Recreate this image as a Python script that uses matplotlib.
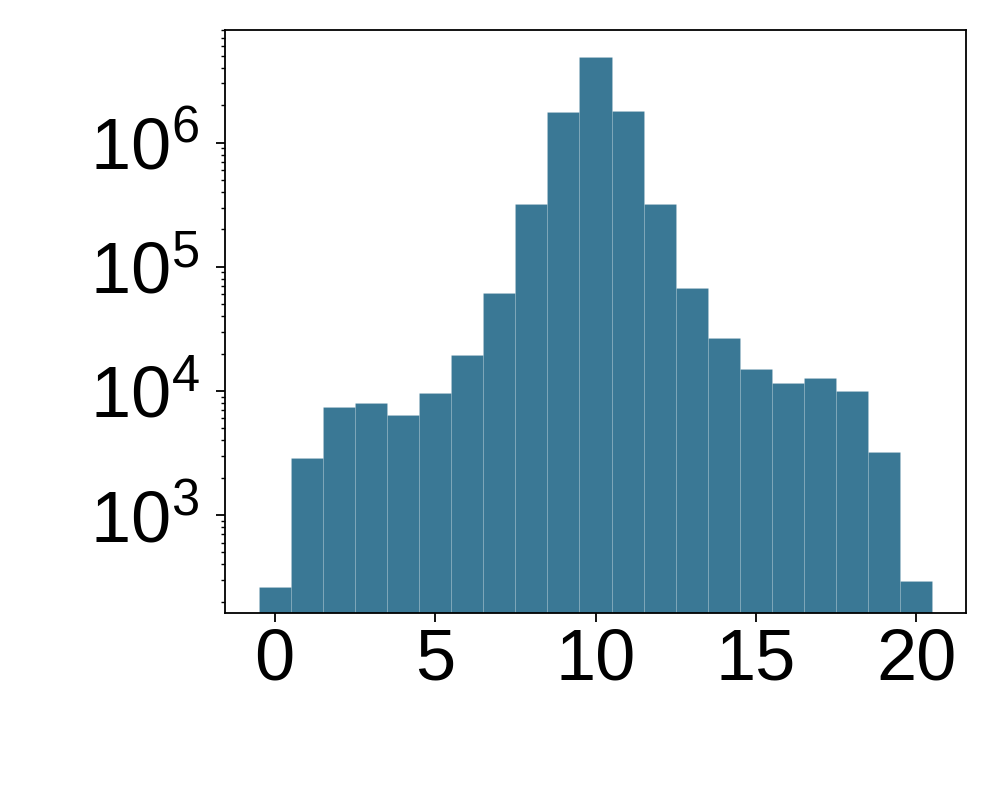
import matplotlib
matplotlib.use("Agg")
import matplotlib.pyplot as plt
from matplotlib.ticker import LogLocator, LogFormatterSciNotation, NullFormatter
import numpy as np

plt.rcParams['font.family'] = ['Liberation Sans', 'DejaVu Sans']
plt.rcParams['mathtext.fontset'] = 'custom'
plt.rcParams['mathtext.rm'] = 'Liberation Sans'

bins = list(range(21))
counts = [263, 2880, 7410, 7980, 6390, 9590, 19400, 61200, 319000, 1760000,
          4880000, 1790000, 319000, 67300, 26600, 15000, 11600, 12700, 9960,
          3210, 294]
xticks = [0, 5, 10, 15, 20]

fig = plt.figure(figsize=(9.97, 7.97), dpi=100)
ax = fig.add_axes([225/997, 1-613/797, (966-225)/997, (613-30)/797])

ax.bar(bins, counts, width=1.0, color='#3a7895', edgecolor=(1, 1, 1, 0.12),
       linewidth=0.6, align='center')
ax.set_yscale('log')
ax.set_ylim(162.6, 8.07e6)
ax.yaxis.set_major_locator(LogLocator(base=10, numticks=30))
ax.yaxis.set_major_formatter(LogFormatterSciNotation(base=10))
ax.yaxis.set_minor_locator(LogLocator(base=10, subs=np.arange(2, 10), numticks=30))
ax.yaxis.set_minor_formatter(NullFormatter())
ax.set_xticks(xticks)
ax.set_xticklabels([str(t) for t in xticks])

for s in ax.spines.values():
    s.set_linewidth(1.3)
ax.tick_params(axis='both', which='major', labelsize=52, length=6.5, width=1.3)
ax.tick_params(axis='x', which='major', pad=4)
ax.tick_params(axis='y', which='major', pad=12)
ax.tick_params(axis='y', which='minor', length=3, width=1.0)

fig.savefig('out.png', dpi=100)
